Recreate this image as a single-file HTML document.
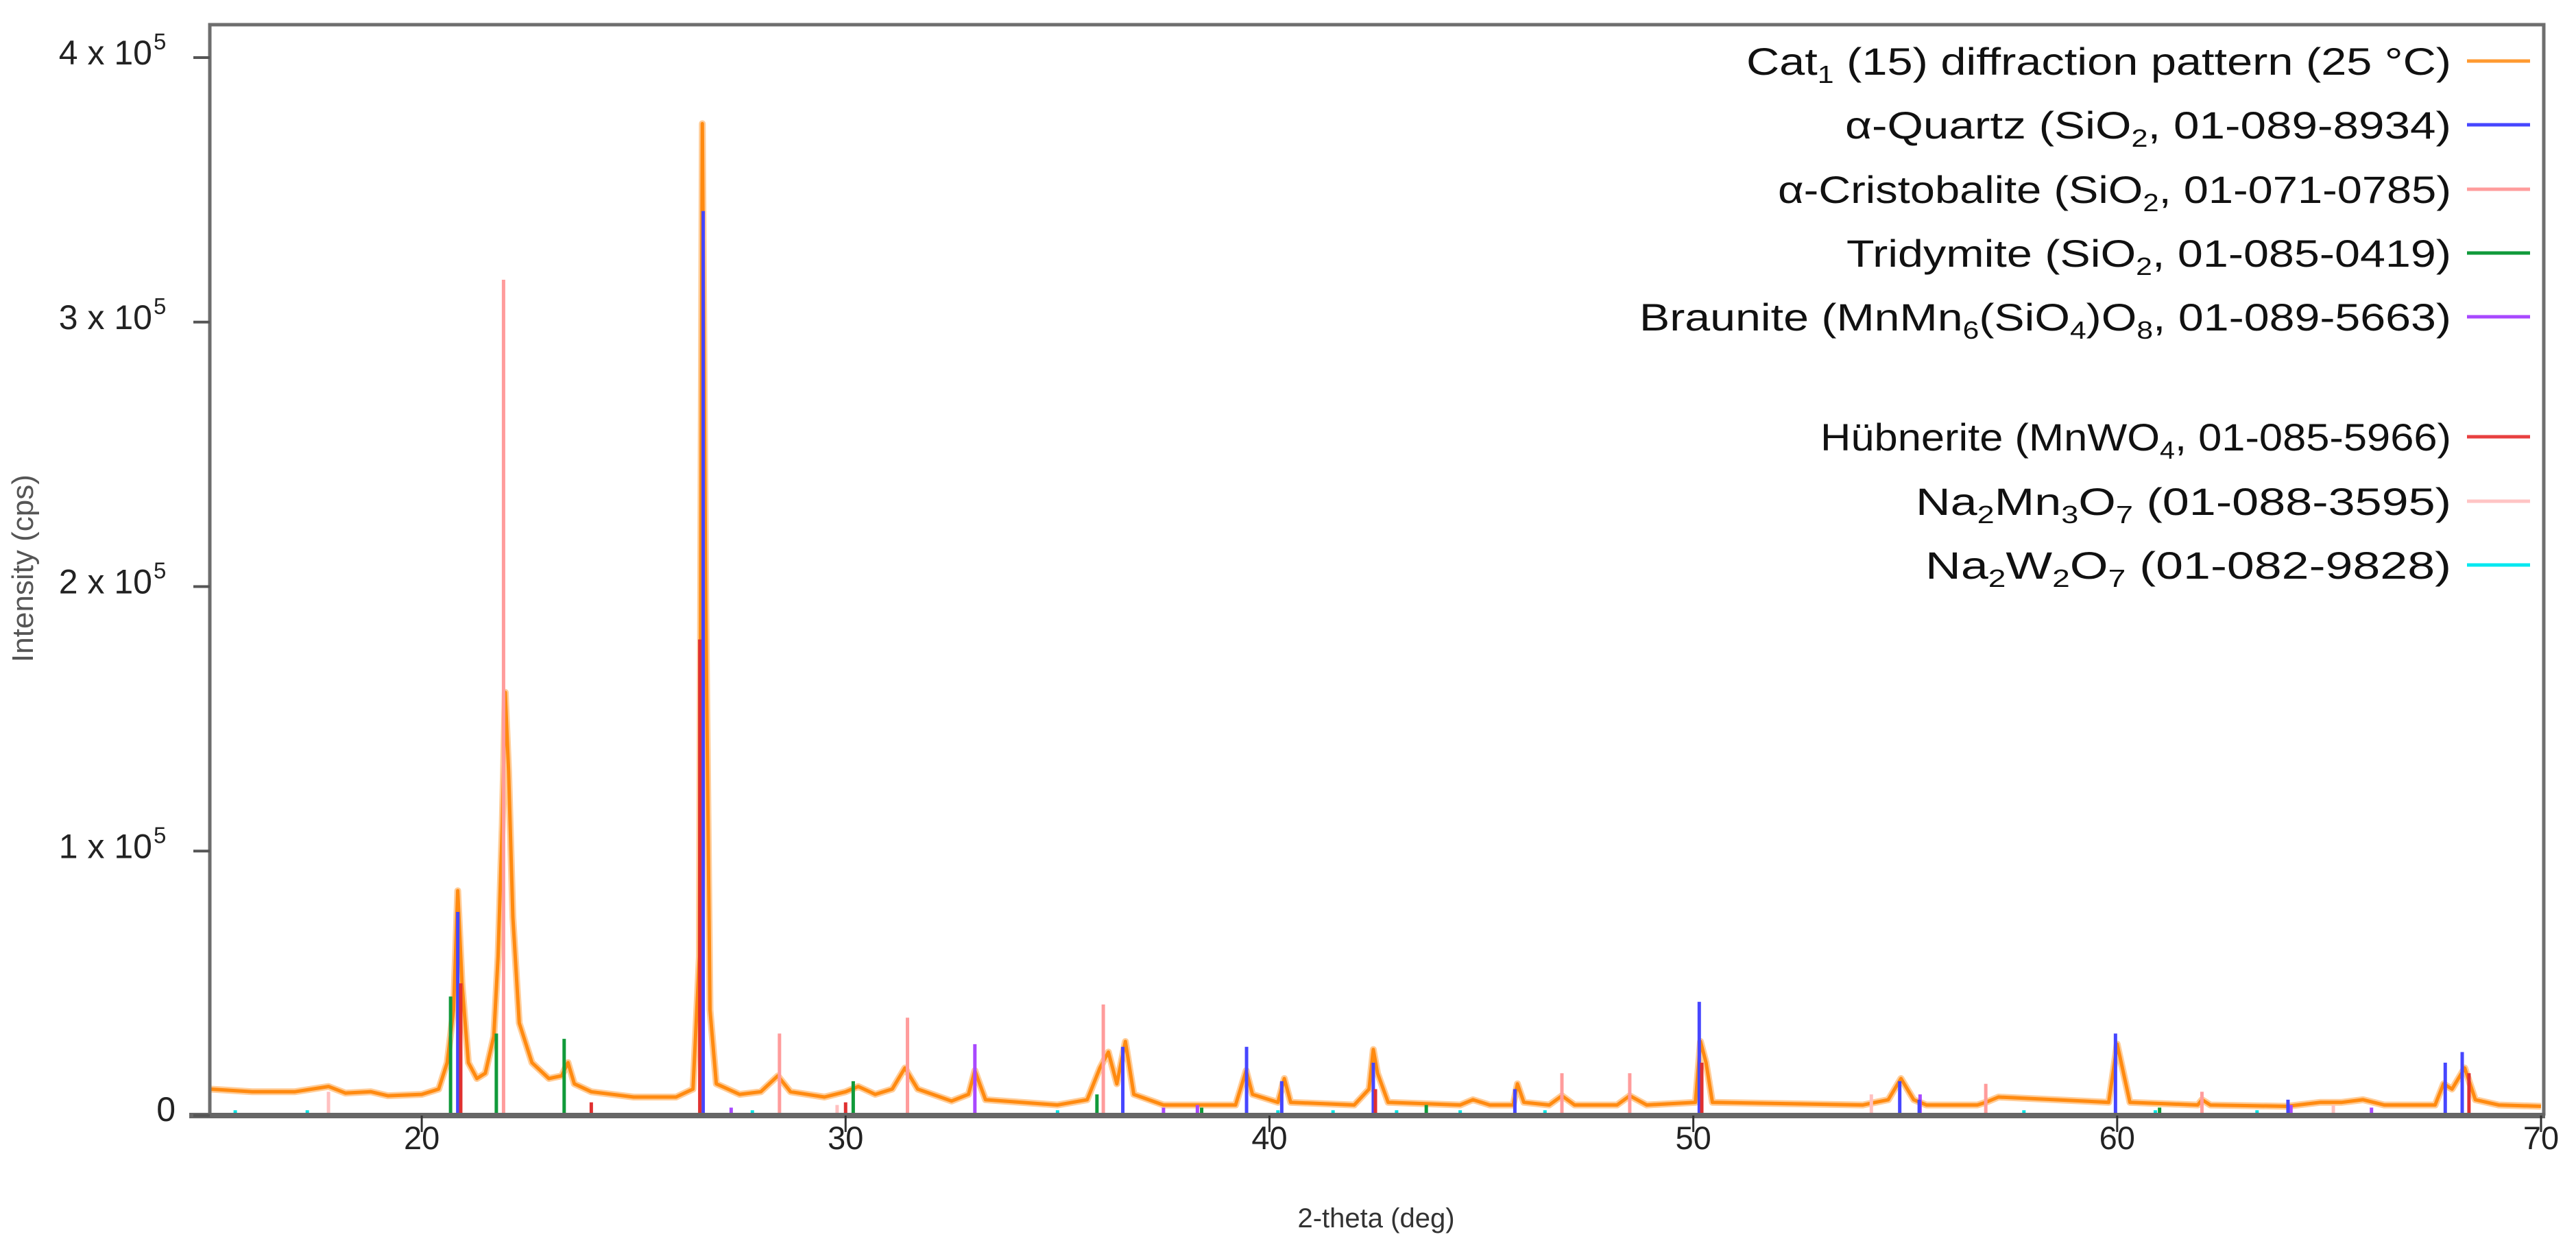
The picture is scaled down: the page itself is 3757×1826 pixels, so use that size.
<!DOCTYPE html>
<html><head><meta charset="utf-8"><style>
html,body{margin:0;padding:0;background:#fff;}
svg{display:block;}
text{font-family:"Liberation Sans",sans-serif;}
</style></head><body>
<svg id="chart" xmlns="http://www.w3.org/2000/svg" width="3757" height="1826" viewBox="0 0 3757 1826">
<g id="plot"></g>
<g id="axes"></g>
<g id="legend"></g>
</svg>
<script>
// x range 15-70 deg; y in thousands of cps
const xTicks = [20, 30, 40, 50, 60, 70];
const yTicks = [0, 100, 200, 300, 400];
const yTickLabels = ["0", "1 x 10", "2 x 10", "3 x 10", "4 x 10"];
// diffraction pattern (2-theta deg, intensity kcps)
const patternX = [15,16,17,17.8,18.2,18.8,19.2,20,20.4,20.6,20.75,20.85,20.95,21.1,21.3,21.5,21.7,21.8,21.9,21.97,22.05,22.15,22.3,22.6,23,23.3,23.45,23.6,24,25,26,26.4,26.55,26.62,26.7,26.8,26.95,27.5,28,28.4,28.7,29.5,30,30.3,30.7,31.1,31.4,31.7,32.5,32.9,33.05,33.3,35,35.7,36.0,36.2,36.4,36.6,36.8,37.5,39.2,39.45,39.6,40.2,40.35,40.5,42,42.35,42.45,42.55,42.8,44.5,44.8,45.2,45.75,45.85,46,46.6,46.9,47.2,48.2,48.5,48.9,50.05,50.17,50.3,50.45,54,54.3,54.6,54.9,55.2,55.5,56.7,56.9,57.2,59.8,60.0,60.15,60.3,61.9,62.0,62.2,64,64.8,65.3,65.8,66.3,67.5,67.7,67.9,68.2,68.45,69,70];
const patternY = [10,9,9,11,8.5,9,7.5,8,10,20,40,85,50,20,14,16,30,60,110,160,130,75,35,20,14,15,20,12,9,7,7,10,60,375,195,40,12,8,9,15,9,7,9,11,8,10,18,10,5.5,8,17,6,4,6,18,24,12,28,8,4,4,17,8,5,14,5,4,10,25,16,5,4,6,4,4,12,5,4,7.5,4,4,7.5,4,5,28,20,5,4,5,6,14,6,4,4,5,7,5,27,16,5,4,6,4,3.5,5,5,6,4,4,12,10,18,6,4,3.5];
// reference stick patterns (position deg, height kcps)
const quartzX = [20.85,26.64,36.54,39.46,40.29,42.45,45.79,50.14,54.87,55.33,59.96,64.03,67.74,68.14];
const quartzY = [77,342,26,26,13,20,10,43,13,6,31,6,20,24];
const cristobaliteX = [21.93,28.44,31.46,36.08,46.9,48.5,56.9,62.0];
const cristobaliteY = [316,31,37,42,16,16,12,9];
const tridymiteX = [20.68,21.76,23.36,30.18,35.93,38.4,43.7,61.0];
const tridymiteY = [45,31,29,13,8,3,4,3];
const brauniteX = [33.05,27.3,37.5,38.3,55.35,64.1,66.0];
const brauniteY = [27,3,3,4,8,4,3];
const hubneriteX = [20.92,26.56,24.0,30.0,42.5,50.2,68.3];
const hubneriteY = [50,180,5,5,10,20,16];
const na2mn3o7X = [17.8,29.8,54.2,65.1];
const na2mn3o7Y = [9,4,8,4];
const na2w2o7X = [15.6,17.3,27.8,35.0,40.2,41.5,43.0,44.5,46.5,57.8,60.9,63.3];
const na2w2o7Y = [2,2,2,2,2,2,2,2,2,2,2,2];

const NS = "http://www.w3.org/2000/svg";
const X0 = 306, X1 = 3706, Y0 = 1627, Y1 = 84;
function sx(v){ return X0 + (v - 15) / (70 - 15) * (X1 - X0); }
function sy(v){ return Y0 - v / 400 * (Y0 - Y1); }
function mk(tag, attrs, parent){
  const e = document.createElementNS(NS, tag);
  for (const k in attrs) e.setAttribute(k, attrs[k]);
  parent.appendChild(e);
  return e;
}
const plot = document.getElementById('plot');
const axes = document.getElementById('axes');
const legend = document.getElementById('legend');

const frame = mk('path', {d:`M${X0},${Y0} L${X0},36 L3710,36 L3710,${Y0}`, fill:'none', stroke:'#6e6e6e', 'stroke-width':5}, axes);



let pts = patternX.map((x,i)=> sx(x).toFixed(1)+','+sy(patternY[i]).toFixed(1)).join(' ');
const halo = mk('polyline', {points:pts, fill:'none', stroke:'#ffc080', 'stroke-width':10, 'stroke-linejoin':'round', opacity:0.8}, plot);


const line = mk('polyline', {points:pts, fill:'none', stroke:'#ff8a10', 'stroke-width':5, 'stroke-linejoin':'round'}, plot);



const phases = [
  {name:'na2w2o7', xs:na2w2o7X, ys:na2w2o7Y, c:'#00e0e0'},
  {name:'na2mn3o7', xs:na2mn3o7X, ys:na2mn3o7Y, c:'#ffc0c0'},
  {name:'tridymite', xs:tridymiteX, ys:tridymiteY, c:'#109a3a'},
  {name:'braunite', xs:brauniteX, ys:brauniteY, c:'#a848ff'},
  {name:'cristobalite', xs:cristobaliteX, ys:cristobaliteY, c:'#ff9c9c'},
  {name:'quartz', xs:quartzX, ys:quartzY, c:'#4646ff'},
  {name:'hubnerite', xs:hubneriteX, ys:hubneriteY, c:'#e03030'}
];
phases.forEach(p=>{
  p.xs.forEach((x,i)=>{
    const s = mk('line', {x1:sx(x), x2:sx(x), y1:sy(0)-4, y2:sy(p.ys[i]), stroke:p.c, 'stroke-width':5}, plot);
    
    
  });
});

const xa = mk('line', {x1:X0-30, x2:3712, y1:Y0, y2:Y0, stroke:'#666', 'stroke-width':8}, axes);


xTicks.forEach(v=>{
  const t = mk('line', {x1:sx(v), x2:sx(v), y1:Y0, y2:Y0+24, stroke:'#333', 'stroke-width':3}, axes);
  
  
  const l = mk('text', {x:sx(v), y:1676, 'font-size':47, 'text-anchor':'middle', fill:'#222'}, axes);
  l.textContent = v;
  
  
});
yTicks.forEach((v,i)=>{
  const t = mk('line', {x1:X0-24, x2:X0, y1:sy(v), y2:sy(v), stroke:'#555', 'stroke-width':4}, axes);
  
  
  const l = mk('text', {x: i===0 ? 256 : 222, y:sy(v)+ (i===0?8:10), 'font-size':50, 'text-anchor':'end', fill:'#222'}, axes);
  l.textContent = yTickLabels[i];
  
  
  if (i>0){
    const sp = mk('text', {x:224, y:sy(v)-12, 'font-size':33, fill:'#222'}, axes);
    sp.textContent = '5';
    
    
  }
});
const xt = mk('text', {x:2007, y:1790, 'font-size':40, 'text-anchor':'middle', fill:'#333'}, axes);
xt.textContent = '2-theta (deg)';


const yt = mk('text', {x:0, y:0, 'font-size':44, 'text-anchor':'middle', fill:'#555', transform:'translate(48,829) rotate(-90)'}, axes);
yt.textContent = 'Intensity (cps)';



const legendRows = [
  {y:89, w:1028, c:'#ff9a30', parts:[['Cat',0],['1',1],[' (15) diffraction pattern (25 °C)',0]]},
  {y:182, w:884, c:'#4646ff', parts:[['α-Quartz (SiO',0],['2',1],[', 01-089-8934)',0]]},
  {y:276, w:982, c:'#ff9c9c', parts:[['α-Cristobalite (SiO',0],['2',1],[', 01-071-0785)',0]]},
  {y:369, w:882, c:'#109a3a', parts:[['Tridymite (SiO',0],['2',1],[', 01-085-0419)',0]]},
  {y:462, w:1184, c:'#a848ff', parts:[['Braunite (MnMn',0],['6',1],['(SiO',0],['4',1],[')O',0],['8',1],[', 01-089-5663)',0]]},
  {y:637, w:920, c:'#e84040', parts:[['Hübnerite (MnWO',0],['4',1],[', 01-085-5966)',0]]},
  {y:731, w:781, c:'#ffc4c4', parts:[['Na',0],['2',1],['Mn',0],['3',1],['O',0],['7',1],[' (01-088-3595)',0]]},
  {y:824, w:767, c:'#00e8f0', parts:[['Na',0],['2',1],['W',0],['2',1],['O',0],['7',1],[' (01-082-9828)',0]]}
];
legendRows.forEach(r=>{
  const t = mk('text', {x:3575-r.w, y:r.y+20, 'font-size':56, fill:'#111', textLength:r.w, lengthAdjust:'spacingAndGlyphs'}, legend);
  
  
  r.parts.forEach(p=>{
    const s = document.createElementNS(NS,'tspan');
    s.textContent = p[0];
    if (p[1]) { s.setAttribute('font-size', 36); s.setAttribute('dy', 12); }
    else if (t.childNodes.length && t.lastChild.getAttribute('dy')==='12') { s.setAttribute('dy', -12); }
    t.appendChild(s);
  });
  const ln = mk('line', {x1:3598, x2:3690, y1:r.y, y2:r.y, stroke:r.c, 'stroke-width':5}, legend);
  
  
});
</script>
</body></html>
